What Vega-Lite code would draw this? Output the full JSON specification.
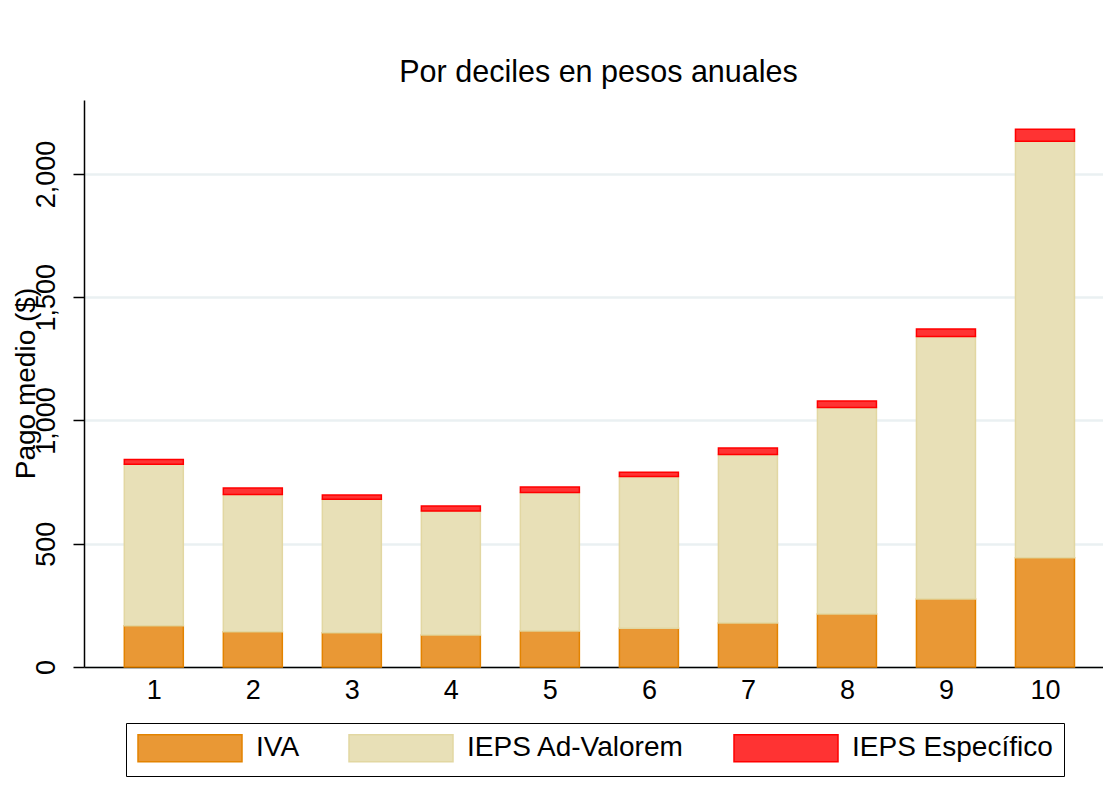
{
  "$schema": "https://vega.github.io/schema/vega-lite/v6.json",
  "autosize": {"type": "none"},
  "width": 1019,
  "height": 567,
  "padding": {"left": 84, "top": 100, "right": 0, "bottom": 139},
  "background": "white",
  "title": {"text": "Por deciles en pesos anuales", "fontSize": 30.5, "font": "Liberation Sans", "fontWeight": "normal", "color": "black", "offset": 12, "anchor": "middle", "dx": 5},
  "data": {"values": [
    {"decil": 1, "serie": "IVA", "valor": 167},
    {"decil": 1, "serie": "IEPS Ad-Valorem", "valor": 655},
    {"decil": 1, "serie": "IEPS Específico", "valor": 20},
    {"decil": 2, "serie": "IVA", "valor": 143},
    {"decil": 2, "serie": "IEPS Ad-Valorem", "valor": 557},
    {"decil": 2, "serie": "IEPS Específico", "valor": 26},
    {"decil": 3, "serie": "IVA", "valor": 139},
    {"decil": 3, "serie": "IEPS Ad-Valorem", "valor": 541},
    {"decil": 3, "serie": "IEPS Específico", "valor": 18},
    {"decil": 4, "serie": "IVA", "valor": 130},
    {"decil": 4, "serie": "IEPS Ad-Valorem", "valor": 503},
    {"decil": 4, "serie": "IEPS Específico", "valor": 20},
    {"decil": 5, "serie": "IVA", "valor": 146},
    {"decil": 5, "serie": "IEPS Ad-Valorem", "valor": 562},
    {"decil": 5, "serie": "IEPS Específico", "valor": 22},
    {"decil": 6, "serie": "IVA", "valor": 157},
    {"decil": 6, "serie": "IEPS Ad-Valorem", "valor": 616},
    {"decil": 6, "serie": "IEPS Específico", "valor": 17},
    {"decil": 7, "serie": "IVA", "valor": 178},
    {"decil": 7, "serie": "IEPS Ad-Valorem", "valor": 684},
    {"decil": 7, "serie": "IEPS Específico", "valor": 26},
    {"decil": 8, "serie": "IVA", "valor": 215},
    {"decil": 8, "serie": "IEPS Ad-Valorem", "valor": 838},
    {"decil": 8, "serie": "IEPS Específico", "valor": 26},
    {"decil": 9, "serie": "IVA", "valor": 276},
    {"decil": 9, "serie": "IEPS Ad-Valorem", "valor": 1065},
    {"decil": 9, "serie": "IEPS Específico", "valor": 30},
    {"decil": 10, "serie": "IVA", "valor": 443},
    {"decil": 10, "serie": "IEPS Ad-Valorem", "valor": 1690},
    {"decil": 10, "serie": "IEPS Específico", "valor": 48}
  ]},
  "transform": [
    {"calculate": "indexof(['IVA', 'IEPS Ad-Valorem', 'IEPS Específico'], datum.serie)", "as": "orden_pila"}
  ],
  "mark": {"type": "bar", "width": 59, "strokeWidth": 1.5},
  "encoding": {
    "x": {
      "field": "decil", "type": "quantitative",
      "scale": {"domain": [0.295, 10.586], "nice": false, "zero": false, "padding": 0},
      "axis": {"values": [1,2,3,4,5,6,7,8,9,10], "title": null, "grid": false, "ticks": false, "labelPadding": 10, "labelFontSize": 27, "labelFont": "Liberation Sans", "labelColor": "black", "domainColor": "black", "domainWidth": 1.5, "format": "d", "labelFlush": false}
    },
    "y": {
      "field": "valor", "type": "quantitative", "stack": "zero",
      "scale": {"domain": [0, 2300], "nice": false},
      "axis": {"values": [0, 500, 1000, 1500, 2000], "format": ",d", "title": "Pago medio ($)", "titleFontSize": 28, "titleFont": "Liberation Sans", "titleFontWeight": "normal", "titleColor": "black", "titleAngle": -90, "titleX": -58, "titleY": 283, "titleAlign": "center", "titleBaseline": "middle", "labelAngle": -90, "labelAlign": "center", "labelBaseline": "bottom", "labelPadding": 13, "labelFontSize": 27, "labelFont": "Liberation Sans", "labelColor": "black", "tickSize": 11, "tickColor": "black", "tickWidth": 1.5, "domainColor": "black", "domainWidth": 1.5, "grid": true, "gridColor": "#eaf0f2", "gridWidth": 2.5, "labelFlush": false}
    },
    "order": {"field": "orden_pila", "type": "quantitative", "sort": "ascending"},
    "fill": {
      "field": "serie", "type": "nominal",
      "scale": {"domain": ["IVA", "IEPS Ad-Valorem", "IEPS Específico"], "range": ["#E99835", "#E8E0B7", "#FF3333"]},
      "legend": {"orient": "none", "legendX": 42, "legendY": 623, "direction": "horizontal", "title": null, "symbolType": "M-4,-1.04L4,-1.04L4,1.04L-4,1.04Z", "symbolSize": 676, "symbolOffset": 39, "labelOffset": 52, "labelFontSize": 28, "labelFont": "Liberation Sans", "labelColor": "black", "columnPadding": 46, "padding": 11, "strokeColor": "black", "symbolStrokeWidth": 1.5, "symbolOpacity": 1, "labelLimit": 400}
    },
    "stroke": {
      "field": "serie", "type": "nominal",
      "scale": {"domain": ["IVA", "IEPS Ad-Valorem", "IEPS Específico"], "range": ["#E38300", "#E2D7A2", "#FF0000"]}
    }
  },
  "config": {"view": {"stroke": null}}
}
